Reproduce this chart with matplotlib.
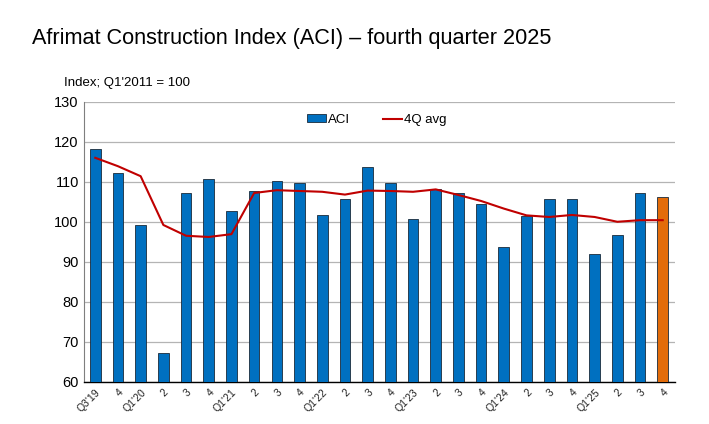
import matplotlib.pyplot as plt
import numpy as np

plt.rcParams['font.family'] = ['Liberation Sans', 'DejaVu Sans']

# quarter labels
labels = ["Q3'19", "4", "Q1'20", "2", "3", "4", "Q1'21", "2", "3", "4",
          "Q1'22", "2", "3", "4", "Q1'23", "2", "3", "4", "Q1'24", "2",
          "3", "4", "Q1'25", "2", "3", "4"]

# ACI index values
aci = [118.1, 112.1, 99.2, 67.1, 107.1, 110.8, 102.8, 107.6, 110.2, 109.8,
       101.6, 105.7, 113.6, 109.8, 100.8, 108.3, 107.3, 104.4, 93.6, 101.5,
       105.7, 105.8, 91.9, 96.8, 107.3, 106.1]

# 4-quarter average
avg4q = [116.0, 113.9, 111.4, 99.2, 96.5, 96.2, 96.9, 107.2, 107.9, 107.7,
         107.5, 106.8, 107.8, 107.7, 107.5, 108.1, 106.7, 105.2, 103.3, 101.6,
         101.2, 101.7, 101.2, 100.0, 100.4, 100.4]

x = np.arange(len(labels))
colors = ['#0070c0'] * (len(labels) - 1) + ['#e36c0a']

fig = plt.figure(figsize=(7.09, 4.24), dpi=100)
ax = fig.add_axes([0.119, 0.0998, 0.833, 0.660])

bars = ax.bar(x, aci, width=0.47, color=colors, edgecolor='#1a2a3a', linewidth=0.6,
              label='ACI', zorder=3)
line, = ax.plot(x, avg4q, color='#c00000', linewidth=1.5, label='4Q avg', zorder=4)

ax.set_ylim(60, 130)
ax.set_xlim(-0.48, 25.54)
ax.set_yticks(np.arange(60, 131, 10))
ax.yaxis.grid(True, color='#b4b4b4', linewidth=0.9, zorder=0)
ax.set_axisbelow(True)

ax.set_xticks(x)
ax.set_xticklabels(labels, rotation=45, ha='right', rotation_mode='anchor',
                   fontsize=7.5, color='#222222')
ax.tick_params(axis='both', length=0)
ax.tick_params(axis='y', labelsize=10.5, pad=4)
ax.tick_params(axis='x', pad=4)

for s in ['top', 'right']:
    ax.spines[s].set_visible(False)
ax.spines['left'].set_color('#7f7f7f')
ax.spines['bottom'].set_color('#000000')
ax.spines['bottom'].set_linewidth(1.0)

ax.legend([bars, line], ['ACI', '4Q avg'], loc='center',
          bbox_to_anchor=(0.495, 0.935), ncol=2, frameon=False,
          fontsize=9.5, handlelength=1.45, handletextpad=0.15, columnspacing=2.5,
          handleheight=0.55)

fig.text(0.045, 0.910, "Afrimat Construction Index (ACI) \u2013 fourth quarter 2025",
         fontsize=15.6, va='center', ha='left')
fig.text(0.090, 0.804, "Index; Q1'2011 = 100", fontsize=9.5, va='center', ha='left')

fig.savefig('out.png', dpi=100)
